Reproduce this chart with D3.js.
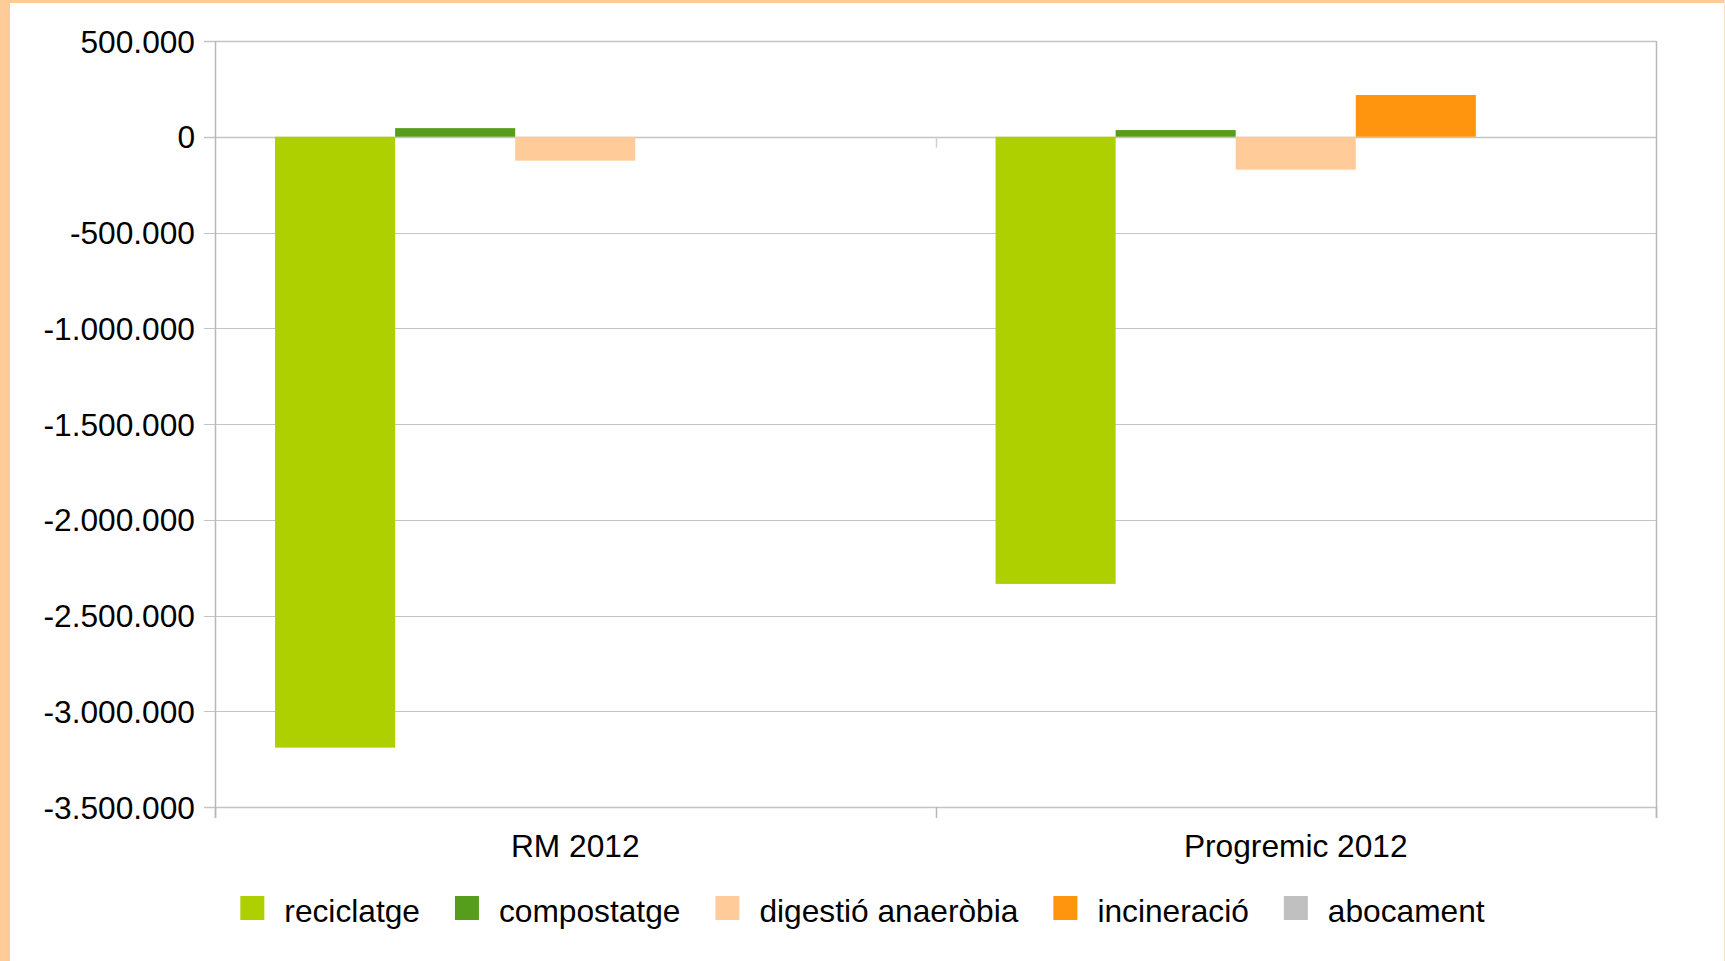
<!DOCTYPE html>
<html>
<head>
<meta charset="utf-8">
<script src="https://cdn.jsdelivr.net/npm/d3@7/dist/d3.min.js"></script>
<style>
  html, body { margin: 0; padding: 0; background: #fff; }
  svg { display: block; }
  text { font-family: "Liberation Sans", Arial, sans-serif; fill: #000; }
</style>
</head>
<body>
<svg id="chart" width="1725" height="961"></svg>
<script>
// ---- data ----
const categories = ["RM 2012", "Progremic 2012"];
const series = ["reciclatge", "compostatge", "digestió anaeròbia", "incineració", "abocament"];
const colors = ["#aecf00", "#579d1c", "#ffcc99", "#ff950e", "#c0c0c0"];
const valuesRM = [-3190000, 45000, -125000, 0, 0];
const valuesProgremic = [-2335000, 35000, -172000, 218000, 0];
const yTicks = [500000, 0, -500000, -1000000, -1500000, -2000000, -2500000, -3000000, -3500000];

const values = [valuesRM, valuesProgremic];

const W = 1725, H = 961;
const FS = 31.7;
const plot = { left: 215, right: 1656, top: 41, bottom: 807 };
const svg = d3.select("#chart");

// page border
svg.append("rect").attr("x", 0).attr("y", 0).attr("width", W).attr("height", H).attr("fill", "#fff");
svg.append("rect").attr("x", 0).attr("y", 0).attr("width", 10).attr("height", H).attr("fill", "#ffcc99");
svg.append("rect").attr("x", 0).attr("y", 0).attr("width", W).attr("height", 3).attr("fill", "#ffcc99");
svg.append("rect").attr("x", W - 1).attr("y", 0).attr("width", 1).attr("height", H).attr("fill", "#ffe0c0");

const loc = d3.formatLocale({ decimal: ",", thousands: ".", grouping: [3], currency: ["", ""], minus: "-" });
const fmt = loc.format(",d");

const y = d3.scaleLinear().domain([-3500000, 500000]).range([plot.bottom, plot.top]);
const x0 = d3.scaleBand().domain(categories).range([plot.left, plot.right]).paddingInner(0).paddingOuter(0);
const x1 = d3.scaleBand().domain(series).range([0, x0.bandwidth()]).paddingInner(0).paddingOuter(0.5);

const gridC = "#c4c4c4";
const TL = 11;

// gridlines
svg.append("g").selectAll("line").data(yTicks).join("line")
  .attr("x1", plot.left - TL).attr("x2", plot.right)
  .attr("y1", d => Math.round(y(d)) + 0.5).attr("y2", d => Math.round(y(d)) + 0.5)
  .attr("stroke", gridC).attr("stroke-width", d => (d === 0 || d === 500000 || d === -3500000) ? 1.6 : 1);

// y tick labels
svg.append("g").selectAll("text").data(yTicks).join("text")
  .attr("x", plot.left - TL - 9).attr("y", d => y(d) + 11.5)
  .attr("text-anchor", "end").attr("font-size", FS)
  .text(d => fmt(d));

// bars
const groups = svg.append("g").selectAll("g").data(categories).join("g")
  .attr("transform", d => `translate(${x0(d)},0)`);
groups.selectAll("rect").data((c, i) => series.map((s, j) => ({ s, v: values[i][j], color: colors[j] })))
  .join("rect")
  .attr("x", d => x1(d.s)).attr("width", x1.bandwidth())
  .attr("y", d => y(Math.max(0, d.v))).attr("height", d => Math.abs(y(d.v) - y(0)))
  .attr("fill", d => d.color);

// axes lines
const axC = "#b8b8b8";
svg.append("line").attr("x1", plot.left + 0.5).attr("x2", plot.left + 0.5).attr("y1", plot.top).attr("y2", plot.bottom + TL).attr("stroke", axC).attr("stroke-width", 1.5);
svg.append("line").attr("x1", plot.right + 0.5).attr("x2", plot.right + 0.5).attr("y1", plot.top).attr("y2", plot.bottom + TL).attr("stroke", axC).attr("stroke-width", 1.5);
const catEdges = [plot.left, x0(categories[1]), plot.right];
// bottom ticks
svg.append("g").selectAll("line").data(catEdges).join("line")
  .attr("x1", d => Math.round(d) + 0.5).attr("x2", d => Math.round(d) + 0.5)
  .attr("y1", plot.bottom).attr("y2", plot.bottom + TL)
  .attr("stroke", axC).attr("stroke-width", 1.5);
// tick at zero line (middle)
svg.append("line").attr("x1", Math.round(catEdges[1]) + 0.5).attr("x2", Math.round(catEdges[1]) + 0.5)
  .attr("y1", y(0)).attr("y2", y(0) + TL).attr("stroke", "#d0d0d0").attr("stroke-width", 1.5);

// category labels
svg.append("g").selectAll("text").data(categories).join("text")
  .attr("x", d => x0(d) + x0.bandwidth() / 2).attr("y", 857)
  .attr("text-anchor", "middle").attr("font-size", FS)
  .text(d => d);

// legend
const lg = svg.append("g");
const items = lg.selectAll("g").data(series).join("g");
items.append("rect").attr("width", 24).attr("height", 24).attr("y", 896)
  .attr("fill", (d, i) => colors[i]);
items.append("text").attr("x", 44).attr("y", 922).attr("font-size", FS).text(d => d);
const widths = [];
items.each(function() { widths.push(d3.select(this).select("text").node().getComputedTextLength()); });
const gap = 35;
let total = widths.reduce((a, w) => a + 44 + w, 0) + gap * (series.length - 1);
let cx = W / 2 - total / 2;
items.each(function(d, i) {
  d3.select(this).attr("transform", `translate(${cx},0)`);
  cx += 44 + widths[i] + gap;
});
</script>
</body>
</html>
